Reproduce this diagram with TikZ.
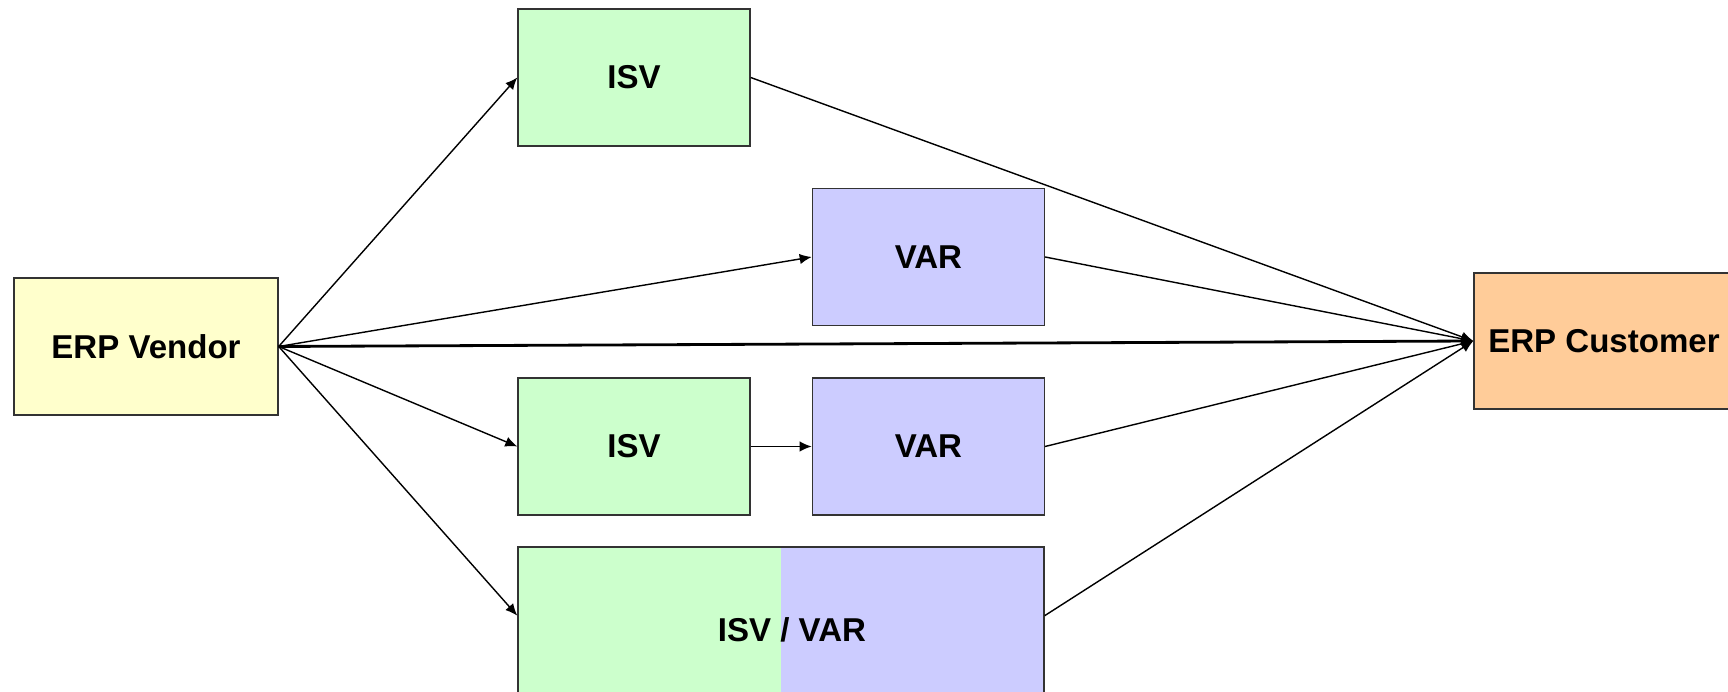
\documentclass[tikz,border=0pt]{standalone}
\usepackage{fontspec}
\setmainfont{Liberation Sans}
\usepackage{tikz}
\usetikzlibrary{arrows.meta}

\definecolor{vendorfill}{HTML}{FFFFCC}
\definecolor{isvfill}{HTML}{CCFFCC}
\definecolor{varfill}{HTML}{CCCCFF}
\definecolor{customerfill}{HTML}{FFCC99}
\definecolor{boxline}{HTML}{333333}

\begin{document}
\begin{tikzpicture}[
						box/.style={rectangle, draw=boxline, line width=1pt, inner sep=0pt, font=\fontsize{23.5}{27}\selectfont\bfseries},
						smallbox/.style={box, minimum width=5.8cm, minimum height=3.425cm},
						link/.style={line width=1pt, -{Latex[length=0.3cm, width=0.26cm]}},
						]
						\useasboundingbox (0,0) rectangle (43.2,17.3);
						\clip (0,0) rectangle (43.2,17.3);
						%Nodes
						\node[box, fill=vendorfill, minimum width=6.6cm, minimum height=3.425cm]      (vendor) 	at 	(3.65,8.6375)           {ERP Vendor};
						\node[smallbox, fill=isvfill]      (isv1) 	at 	(15.85,15.3625)           {ISV};
						\node[smallbox, fill=varfill]      (var1) 	at 	(23.21,10.875)           {VAR};
						\node[smallbox, fill=isvfill]      (isv2) 	at 	(15.85,6.1375)           {ISV};
						\node[smallbox, fill=varfill]      (var2) 	at 	(23.21,6.1375)           {VAR};
						\node[box, minimum width=13.15cm, minimum height=4.125cm,
							path picture={
								\fill[isvfill] (path picture bounding box.south west) rectangle (path picture bounding box.north);
								\fill[varfill] (path picture bounding box.south) rectangle (path picture bounding box.north east);
							}]      (isvvar) 	at 	(19.525,1.5625)           {\hspace*{0.55cm}ISV / VAR};
						\node[box, fill=customerfill, minimum width=6.5cm, minimum height=3.4cm]      (customer) 	at 	(40.1,8.775)           {ERP Customer};

						%Lines
						\draw[link] (vendor.east) -- (isv1.west);
						\draw[link] (vendor.east) -- (var1.west);
						\draw[link] (vendor.east) -- (isv2.west);
						\draw[link] (vendor.east) -- (isvvar.177);
						\draw[link, line width=2pt] (vendor.east) -- (customer.west);

						\draw[link] (isv2.east) -- (var2.west);

						\draw[link] (isv1.east) -- (customer.west);
						\draw[link] (var1.east) -- (customer.west);
						\draw[link] (var2.east) -- (customer.west);
						\draw[link] (isvvar.3) -- (customer.west);
					\end{tikzpicture}
\end{document}
